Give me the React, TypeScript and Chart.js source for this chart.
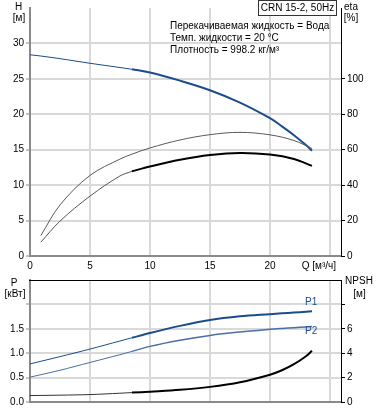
import React, { useEffect, useRef } from 'react';
import { Chart, registerables } from 'chart.js';
Chart.register(...registerables);

const FONT = '"Liberation Sans", Arial, sans-serif';

// Pump curve data (Q in m³/h)
const qFlow = [0, 1, 2.5, 5, 7.5, 8.5, 10, 12.5, 15, 17.5, 20, 21, 22, 23, 23.5];
const headH = [28.4, 28.2, 27.85, 27.2, 26.6, 26.35, 25.9, 24.75, 23.4, 21.65, 19.45, 18.3, 17.05, 15.65, 14.85];
const powerP1 = [0.78, 0.84, 0.93, 1.085, 1.25, 1.316, 1.415, 1.56, 1.68, 1.755, 1.8, 1.817, 1.833, 1.85, 1.86];
const powerP2 = [0.51, 0.565, 0.65, 0.81, 0.97, 1.037, 1.14, 1.265, 1.365, 1.435, 1.49, 1.508, 1.524, 1.538, 1.545];
const npsh = [0.53, 0.54, 0.56, 0.61, 0.72, 0.77, 0.85, 1.0, 1.24, 1.62, 2.24, 2.6, 3.1, 3.75, 4.2];
const etaQ = [0.9, 2.5, 5, 7.5, 8.5, 10, 12.5, 15, 17.5, 20, 22, 23.5];
const etaUpper = [11.5, 28.8, 45.5, 54.7, 57.5, 61, 65.5, 68.5, 69.8, 68.4, 65.2, 60.7];
const etaLower = [7.8, 19.7, 33.8, 45.2, 47.8, 50.5, 54.3, 57, 58.2, 57.3, 54.8, 50.9];
const dutyStart = 8.5;

const xTicks = [0, 5, 10, 15, 20, 25];
const hTicks = [0, 5, 10, 15, 20, 25, 30];
const etaTicks = [0, 20, 40, 60, 80, 100];
const pTicks = [0, 0.5, 1, 1.5, 2];
const npshTicks = [0, 2, 4, 6, 8];

const modelLabel = 'CRN 15-2, 50Hz';
const infoLines = [
  'Перекачиваемая жидкость = Вода',
  'Темп. жидкости = 20 °C',
  'Плотность = 998.2 кг/м³',
];
const xTitle = 'Q [м³/ч]';

const BLUE = '#1b4c8c';
const GRID = '#d9d9d9';
const AXIS = '#8a8a8a';

function seg(xs: number[], ys: number[], thick: boolean) {
  const pts: { x: number; y: number }[] = [];
  xs.forEach((x, i) => {
    if (thick ? x >= dutyStart : x <= dutyStart) pts.push({ x, y: ys[i] });
  });
  return pts;
}

function line(data: any, color: string, width: number, axis: string) {
  return {
    data,
    borderColor: color,
    borderWidth: width,
    pointRadius: 0,
    fill: false,
    tension: 0.35,
    yAxisID: axis,
  };
}

const setTicks = (vals: number[]) => (s: any) => {
  s.ticks = vals.map((v) => ({ value: v }));
};

const topText = {
  id: 'topText',
  afterDraw(chart: any) {
    const ctx = chart.ctx;
    ctx.save();
    ctx.font = `10px ${FONT}`;
    ctx.fillStyle = '#000';
    ctx.textAlign = 'center';
    ctx.textBaseline = 'middle';
    ctx.fillText('H', 18.5, 7.5);
    ctx.fillText('[м]', 19, 18.5);
    ctx.fillText('eta', 351, 7.5);
    ctx.fillText('[%]', 351, 18.5);
    ctx.textAlign = 'left';
    infoLines.forEach((t, i) => ctx.fillText(t, 170, 26.5 + i * 12));
    ctx.fillStyle = '#fff';
    ctx.fillRect(258, 0, 79, 15.5);
    ctx.strokeStyle = '#333';
    ctx.lineWidth = 1;
    ctx.strokeRect(258.5, 0.5, 78, 15);
    ctx.fillStyle = '#000';
    ctx.textAlign = 'center';
    ctx.fillText(modelLabel, 297.5, 8.5);
    ctx.textAlign = 'right';
    ctx.fillText(xTitle, 336, 266.5);
    ctx.restore();
  },
};

const bottomText = {
  id: 'bottomText',
  afterDraw(chart: any) {
    const ctx = chart.ctx;
    const a = chart.chartArea;
    ctx.save();
    ctx.strokeStyle = '#000';
    ctx.lineWidth = 1;
    ctx.beginPath();
    ctx.moveTo(a.left - 1, Math.round(a.top) + 0.5);
    ctx.lineTo(a.right, Math.round(a.top) + 0.5);
    ctx.stroke();
    ctx.font = `10px ${FONT}`;
    ctx.fillStyle = '#000';
    ctx.textAlign = 'center';
    ctx.textBaseline = 'middle';
    ctx.fillText('P', 14, 11.5);
    ctx.fillText('[кВт]', 15, 22.5);
    ctx.fillText('NPSH', 359, 9.5);
    ctx.fillText('[м]', 359.5, 22.5);
    ctx.fillStyle = BLUE;
    ctx.textAlign = 'left';
    ctx.fillText('P1', 305, 30);
    ctx.fillText('P2', 305, 59);
    ctx.restore();
  },
};

const tickFont = { family: FONT, size: 10 };

export default function App() {
  const topRef = useRef<HTMLCanvasElement>(null);
  const botRef = useRef<HTMLCanvasElement>(null);

  useEffect(() => {
    const top = new Chart(topRef.current as HTMLCanvasElement, {
      type: 'line',
      data: {
        datasets: [
          line(seg(etaQ, etaUpper, false).concat(seg(etaQ, etaUpper, true).slice(1)), '#5a5a5a', 1, 'yEta'),
          line(seg(etaQ, etaLower, false), '#555', 1, 'yEta'),
          line(seg(etaQ, etaLower, true), '#000', 2, 'yEta'),
          line(seg(qFlow, headH, false), BLUE, 1, 'yH'),
          line(seg(qFlow, headH, true), BLUE, 2, 'yH'),
        ] as any,
      },
      options: {
        responsive: false,
        maintainAspectRatio: false,
        devicePixelRatio: 1,
        animation: false,
        layout: { padding: 0 },
        plugins: { legend: { display: false }, tooltip: { enabled: false } },
        scales: {
          x: {
            type: 'linear',
            min: 0,
            max: 25.92,
            afterBuildTicks: setTicks(xTicks),
            afterFit: (s: any) => { s.height = 16; },
            ticks: { font: tickFont, color: '#000', padding: 4, maxRotation: 0, autoSkip: false,
              callback: (v: any) => (v === 25 ? '' : String(v)) },
            grid: { color: GRID, lineWidth: 2, drawTicks: false },
            border: { color: AXIS, width: 2 },
          },
          yH: {
            type: 'linear',
            position: 'left',
            min: 0,
            max: 35,
            afterBuildTicks: setTicks(hTicks),
            afterFit: (s: any) => { s.width = 30; },
            ticks: { font: tickFont, color: '#000', padding: 2 },
            grid: { color: GRID, lineWidth: 2, tickLength: 4, tickWidth: 1, tickColor: AXIS },
            border: { color: AXIS, width: 2 },
          },
          yEta: {
            type: 'linear',
            position: 'right',
            min: 0,
            max: 140,
            afterBuildTicks: setTicks(etaTicks),
            afterFit: (s: any) => { s.width = 37; },
            ticks: { font: tickFont, color: '#000', padding: 2 },
            grid: { drawOnChartArea: false, tickLength: 4, tickWidth: 1, tickColor: '#000' },
            border: { color: '#000', width: 1 },
          },
        },
      } as any,
      plugins: [topText],
    });

    const bot = new Chart(botRef.current as HTMLCanvasElement, {
      type: 'line',
      data: {
        datasets: [
          line(seg(qFlow, npsh, false), '#333', 1, 'yN'),
          line(seg(qFlow, npsh, true), '#000', 2, 'yN'),
          line(seg(qFlow, powerP2, false), '#4a6fa8', 1, 'yP'),
          line(seg(qFlow, powerP2, true), '#4a6fa8', 1.5, 'yP'),
          line(seg(qFlow, powerP1, false), BLUE, 1, 'yP'),
          line(seg(qFlow, powerP1, true), BLUE, 2, 'yP'),
        ] as any,
      },
      options: {
        responsive: false,
        maintainAspectRatio: false,
        devicePixelRatio: 1,
        animation: false,
        layout: { padding: { top: 2, left: 0, right: 0, bottom: 0 } },
        plugins: { legend: { display: false }, tooltip: { enabled: false } },
        scales: {
          x: {
            type: 'linear',
            min: 0,
            max: 25.92,
            afterBuildTicks: setTicks(xTicks),
            afterFit: (s: any) => { s.height = 8; },
            ticks: { display: false },
            grid: { color: GRID, lineWidth: 2, drawTicks: false },
            border: { color: AXIS, width: 2 },
          },
          yP: {
            type: 'linear',
            position: 'left',
            min: 0,
            max: 2.5,
            afterBuildTicks: setTicks(pTicks),
            afterFit: (s: any) => { s.width = 30; },
            ticks: { font: tickFont, color: '#000', padding: 2,
              callback: (v: any) => (v >= 2 ? '' : Number(v).toFixed(1)) },
            grid: { color: GRID, lineWidth: 2, tickLength: 4, tickWidth: 1, tickColor: AXIS },
            border: { color: AXIS, width: 2 },
          },
          yN: {
            type: 'linear',
            position: 'right',
            min: 0,
            max: 10,
            afterBuildTicks: setTicks(npshTicks),
            afterFit: (s: any) => { s.width = 37; },
            ticks: { font: tickFont, color: '#000', padding: 2,
              callback: (v: any) => (v >= 8 ? '' : String(v)) },
            grid: { drawOnChartArea: false, tickLength: 4, tickWidth: 1, tickColor: '#000' },
            border: { color: '#000', width: 1 },
          },
        },
      } as any,
      plugins: [bottomText],
    });

    return () => {
      top.destroy();
      bot.destroy();
    };
  }, []);

  return (
    <div style={{ position: 'absolute', left: 0, top: 0, width: 378, height: 410, background: '#fff' }}>
      <canvas ref={topRef} width={378} height={272}
        style={{ position: 'absolute', left: 0, top: 0, width: 378, height: 272 }} />
      <canvas ref={botRef} width={378} height={138}
        style={{ position: 'absolute', left: 0, top: 272, width: 378, height: 138 }} />
    </div>
  );
}
